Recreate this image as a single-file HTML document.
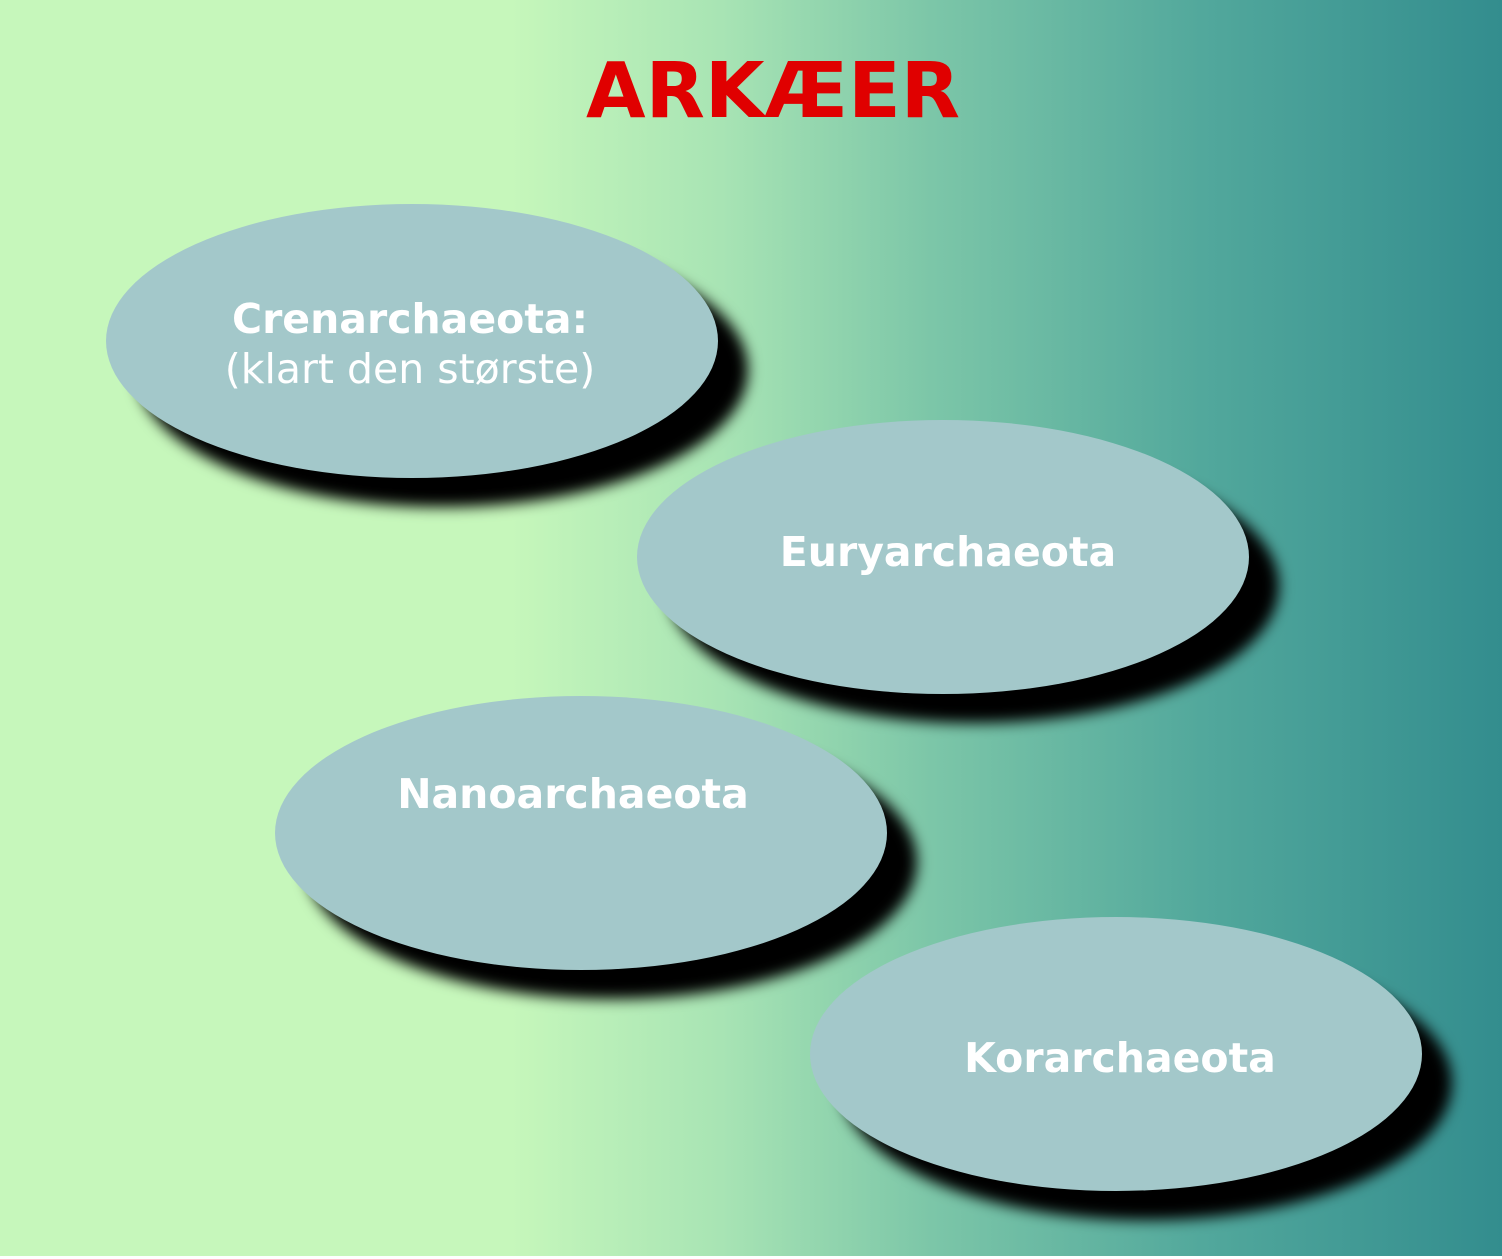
<!DOCTYPE html>
<html><head><meta charset="utf-8"><style>
html,body{margin:0;padding:0;}
body{width:1502px;height:1259px;overflow:hidden;background:linear-gradient(to right,#c6f7bb 0%,#c6f7bb 34%,#a8e4b4 48%,#7cc6a8 62%,#52a89c 80%,#338d8e 100%);}
svg{position:absolute;left:0;top:0;}
text{font-family:"DejaVu Sans","Liberation Sans",sans-serif;}
</style></head><body>
<svg width="1502" height="1259" viewBox="0 0 1502 1259">
<defs><filter id="b" x="-20%" y="-20%" width="140%" height="140%"><feGaussianBlur stdDeviation="7"/></filter></defs>
<text x="773" y="117" text-anchor="middle" font-size="77" font-weight="bold" fill="#e00000">ARKÆER</text>
<g>
<ellipse cx="442" cy="370" rx="306" ry="137" fill="#000" filter="url(#b)"/>
<ellipse cx="412" cy="341" rx="306" ry="137" fill="#a3c8ca"/>
<ellipse cx="973" cy="586" rx="306" ry="137" fill="#000" filter="url(#b)"/>
<ellipse cx="943" cy="557" rx="306" ry="137" fill="#a3c8ca"/>
<ellipse cx="611" cy="862" rx="306" ry="137" fill="#000" filter="url(#b)"/>
<ellipse cx="581" cy="833" rx="306" ry="137" fill="#a3c8ca"/>
<ellipse cx="1146" cy="1083" rx="306" ry="137" fill="#000" filter="url(#b)"/>
<ellipse cx="1116" cy="1054" rx="306" ry="137" fill="#a3c8ca"/>
</g>
<g fill="#fff" text-anchor="middle" font-size="41">
<text x="410" y="333" font-weight="bold">Crenarchaeota:</text>
<text x="410" y="383">(klart den største)</text>
<text x="948" y="566" font-weight="bold">Euryarchaeota</text>
<text x="573" y="808" font-weight="bold">Nanoarchaeota</text>
<text x="1120" y="1072" font-weight="bold">Korarchaeota</text>
</g>
<rect x="0" y="1256" width="1502" height="3" fill="#fff"/>
</svg>
</body></html>
